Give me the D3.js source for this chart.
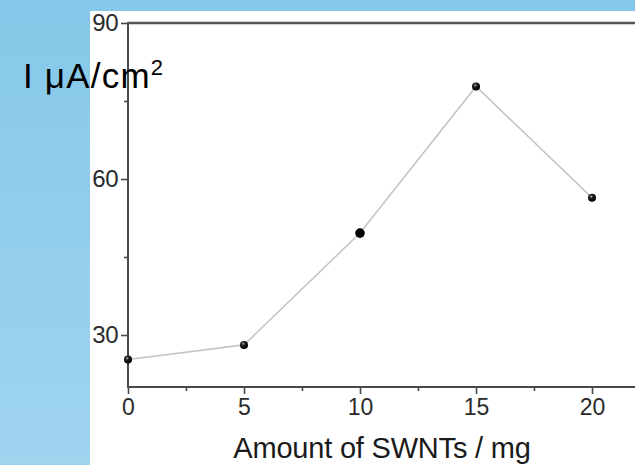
<!DOCTYPE html>
<html><head><meta charset="utf-8">
<script src="https://cdn.jsdelivr.net/npm/d3@7"></script>
<style>html,body{margin:0;padding:0;overflow:hidden;background:#fff}svg{display:block}</style>
</head><body>
<script>
const amounts = [0, 5, 10, 15, 20];
const currents = [25.3, 28.1, 49.6, 77.8, 56.4];
const xTicks = [0, 5, 10, 15, 20];
const yTicks = [30, 60, 90];
const xMinor = [2.5, 7.5, 12.5, 17.5];
const yMinor = [45, 75];
const xTitle = "Amount of SWNTs / mg";

const W = 635, H = 465;
const svg = d3.select("body").append("svg").attr("width", W).attr("height", H);
const defs = svg.append("defs");
const bg = defs.append("linearGradient").attr("id","bg").attr("x1",0).attr("y1",0).attr("x2",0).attr("y2",1);
bg.append("stop").attr("offset","0%").attr("stop-color","#85c7e8");
bg.append("stop").attr("offset","100%").attr("stop-color","#9fd4ef");
const sph = defs.append("radialGradient").attr("id","sph").attr("cx","0.4").attr("cy","0.35").attr("r","0.6");
sph.append("stop").attr("offset","0%").attr("stop-color","#bbb");
sph.append("stop").attr("offset","35%").attr("stop-color","#222");
sph.append("stop").attr("offset","100%").attr("stop-color","#000");

svg.append("rect").attr("width",W).attr("height",H).attr("fill","url(#bg)");
svg.append("rect").attr("x",90).attr("y",11).attr("width",W-90).attr("height",H-11).attr("fill","#fff");

const x = d3.scaleLinear().domain([0, 5]).range([128, 244]);
const y = d3.scaleLinear().domain([30, 60]).range([335, 179]);
const x0 = x(0), yB = y(20), yT = y(90);

const axCol = "#4a4a4a";
const font = "Liberation Sans, Arial, sans-serif";
const g = svg.append("g");
g.append("line").attr("x1",x0).attr("x2",W).attr("y1",yB).attr("y2",yB).attr("stroke",axCol).attr("stroke-width",2);
g.append("line").attr("x1",x0).attr("x2",W).attr("y1",yT).attr("y2",yT).attr("stroke","#555").attr("stroke-width",2.5);
g.append("line").attr("x1",x0).attr("x2",x0).attr("y1",yT-1).attr("y2",yB+1).attr("stroke",axCol).attr("stroke-width",2);

const xAxis = d3.axisBottom(x).tickValues(xTicks).tickSize(7).tickPadding(5).tickFormat(d3.format("d"));
const gx = svg.append("g").attr("transform",`translate(0,${yB})`).call(xAxis);
gx.select(".domain").remove();
gx.selectAll(".tick line").attr("stroke",axCol).attr("stroke-width",1.6);
gx.selectAll(".tick text").attr("font-family",font).attr("font-size",23).attr("fill","#2a2a2a");
const gxm = svg.append("g").attr("transform",`translate(0,${yB})`)
  .call(d3.axisBottom(x).tickValues(xMinor).tickSize(4).tickFormat(""));
gxm.select(".domain").remove();
gxm.selectAll(".tick line").attr("stroke",axCol).attr("stroke-width",1.6);

const yAxis = d3.axisLeft(y).tickValues(yTicks).tickSize(7).tickPadding(3).tickFormat(d3.format("d"));
const gy = svg.append("g").attr("transform",`translate(${x0},0)`).call(yAxis);
gy.select(".domain").remove();
gy.selectAll(".tick line").attr("stroke",axCol).attr("stroke-width",1.6);
gy.selectAll(".tick text").attr("font-family",font).attr("font-size",24).attr("fill","#2a2a2a").attr("letter-spacing","-0.5");
const gym = svg.append("g").attr("transform",`translate(${x0},0)`)
  .call(d3.axisLeft(y).tickValues(yMinor).tickSize(4).tickFormat(""));
gym.select(".domain").remove();
gym.selectAll(".tick line").attr("stroke",axCol).attr("stroke-width",1.6);

const data = amounts.map((a,i)=>({a, v: currents[i]}));
svg.append("path").datum(data)
  .attr("d", d3.line().x(d=>x(d.a)).y(d=>y(d.v)))
  .attr("fill","none").attr("stroke","#c4c4c4").attr("stroke-width",1.6);

svg.selectAll("circle.pt").data(data).join("circle").attr("class","pt")
  .attr("cx",d=>x(d.a)).attr("cy",d=>y(d.v))
  .attr("r",(d,i)=> i===2 ? 4.8 : 4)
  .attr("fill",(d,i)=> i===2 ? "#000" : "url(#sph)");

svg.append("text").attr("x",382).attr("y",458).attr("text-anchor","middle")
  .attr("font-family",font).attr("font-size",29).attr("fill","#1a1a1a")
  .attr("letter-spacing","-0.2").text(xTitle);

const yl = svg.append("text").attr("x",23).attr("y",88)
  .attr("font-family",font).attr("font-size",35).attr("fill","#000")
  .attr("letter-spacing","1.2").style("white-space","pre");
yl.append("tspan").text("I μA/cm");
yl.append("tspan").attr("font-size",22).attr("dy",-13).text("2");
</script>
</body></html>
